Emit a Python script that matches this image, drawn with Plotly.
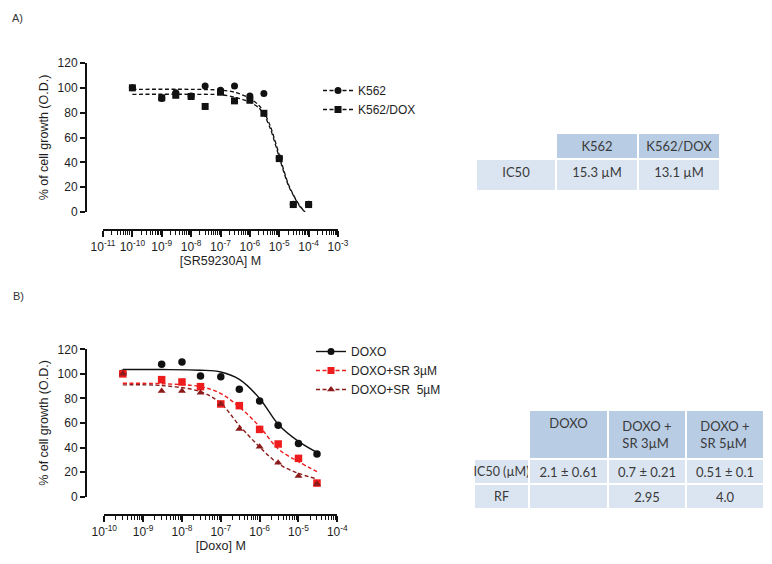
import plotly.graph_objects as go

W, H = 772, 564

# ---------------- Panel A data ----------------
conc_a = [1e-10, 1e-9, 3e-9, 1e-8, 3e-8, 1e-7, 3e-7, 1e-6, 3e-6, 1e-5, 3e-5, 1e-4]
k562 = [100, 91.5, 96, 93.5, 101.5, 98, 101.5, 93.5, 95.5, 43.5, 6.2, 6.2]
k562_dox = [100, 92, 94, 93, 85, 96.5, 89.5, 90, 79.5, 43, 6, 6]
fit_conc_a = [1e-10, 1e-8, 1e-7, 3e-7, 1e-6, 2e-6, 3e-6, 5e-6, 1e-5, 2e-5, 3e-5, 5e-5, 7.5e-5]
k562_fit = [98.8, 98.8, 98.2, 96.5, 91.5, 86, 80.5, 69, 46, 23, 14, 5, 0]
k562_dox_fit = [94.8, 94.8, 94.5, 92.5, 88.5, 84, 78.5, 67, 44, 22, 13.5, 4.5, 0]
xtick_vals_a = [1e-11, 1e-10, 1e-9, 1e-8, 1e-7, 1e-6, 1e-5, 1e-4, 1e-3]
xtick_text_a = ["10<sup>-11</sup>", "10<sup>-10</sup>", "10<sup>-9</sup>", "10<sup>-8</sup>",
                "10<sup>-7</sup>", "10<sup>-6</sup>", "10<sup>-5</sup>", "10<sup>-4</sup>",
                "10<sup>-3</sup>"]

# ---------------- Panel B data ----------------
conc_b = [3e-10, 3e-9, 1e-8, 3e-8, 1e-7, 3e-7, 1e-6, 3e-6, 1e-5, 3e-5]
doxo = [100.5, 107.8, 109.7, 98.3, 97.7, 87.4, 77.9, 58.1, 43.4, 34.8]
doxo_sr3 = [100, 95.3, 93.4, 89.6, 75.5, 74.1, 54.8, 42.9, 31.2, 11.1]
doxo_sr5 = [100, 86, 86, 84.7, 75.5, 55.1, 40.7, 27.7, 16.8, 10.3]
fit_conc_b = [3e-10, 3e-9, 3e-8, 1e-7, 3e-7, 1e-6, 3e-6, 1e-5, 3e-5]
doxo_fit = [103.5, 103.5, 103, 101.5, 95.5, 80, 59, 45, 36]
sr3_fit = [92.3, 92, 89.6, 84, 73, 57, 39, 28.5, 20.5]
sr5_fit = [91, 90.5, 85.5, 76, 58, 40.5, 27, 19, 14.5]
xtick_vals_b = [1e-10, 1e-9, 1e-8, 1e-7, 1e-6, 1e-5, 1e-4]
xtick_text_b = ["10<sup>-10</sup>", "10<sup>-9</sup>", "10<sup>-8</sup>", "10<sup>-7</sup>",
                "10<sup>-6</sup>", "10<sup>-5</sup>", "10<sup>-4</sup>"]

ytick_vals = [0, 20, 40, 60, 80, 100, 120]

# ---------------- Tables ----------------
NB = "\u00a0"
table_a_header = ["", "K562", "K562/DOX"]
table_a_cells = [["IC50"], ["15.3" + NB + "µM"], ["13.1" + NB + "µM"]]
table_b_header = ["", "DOXO", "DOXO" + NB + "+<br>SR" + NB + "3µM", "DOXO" + NB + "+<br>SR" + NB + "5µM"]
table_b_cells = [["IC50" + NB + "(µM)", "RF"],
                 ["2.1" + NB + "±" + NB + "0.61", ""],
                 ["0.7" + NB + "±" + NB + "0.21", "2.95"],
                 ["0.51" + NB + "±" + NB + "0.1", "4.0"]]

FONT = "Liberation Sans, Arial, sans-serif"
TFONT = "Lato, Open Sans, sans-serif"
TXT = "#1e1e1e"
BLACK = "#111111"
RED = "#ee1c1c"
DARKRED = "#8b1a1a"
HDR = "#b8cce4"
CELL = "#dbe5f1"
TTXT = "#3a3a3a"
DASH = "4px,2.5px"


def minor_ticks(lo, hi):
    vals = []
    for e in range(lo, hi):
        for k in range(2, 10):
            vals.append(k * 10.0 ** e)
    return vals


fig = go.Figure()

# empty traces that activate the minor-tick axes (drawn first, underneath)
fig.add_trace(go.Scatter(x=[None], y=[None], xaxis="x3", yaxis="y", showlegend=False, hoverinfo="skip"))
fig.add_trace(go.Scatter(x=[None], y=[None], xaxis="x4", yaxis="y2", showlegend=False, hoverinfo="skip"))

# Panel A: fitted curves
for yfit in (k562_fit, k562_dox_fit):
    fig.add_trace(go.Scatter(x=fit_conc_a, y=yfit, mode="lines",
                             line=dict(color=BLACK, width=1.3, dash=DASH, shape="spline", smoothing=0.8),
                             showlegend=False, xaxis="x", yaxis="y", cliponaxis=False, hoverinfo="skip"))
# Panel A: points
fig.add_trace(go.Scatter(x=conc_a, y=k562, mode="markers", marker=dict(symbol="circle", size=7, color=BLACK),
                         showlegend=False, xaxis="x", yaxis="y", cliponaxis=False))
fig.add_trace(go.Scatter(x=conc_a, y=k562_dox, mode="markers", marker=dict(symbol="square", size=7, color=BLACK),
                         showlegend=False, xaxis="x", yaxis="y", cliponaxis=False))
# Panel A: legend entries
fig.add_trace(go.Scatter(x=[None], y=[None], mode="lines+markers", name="K562",
                         marker=dict(symbol="circle", size=7, color=BLACK), line=dict(color=BLACK, width=1.3, dash=DASH),
                         xaxis="x", yaxis="y", legend="legend"))
fig.add_trace(go.Scatter(x=[None], y=[None], mode="lines+markers", name="K562/DOX",
                         marker=dict(symbol="square", size=7, color=BLACK), line=dict(color=BLACK, width=1.3, dash=DASH),
                         xaxis="x", yaxis="y", legend="legend"))

# Panel B: fitted curves
fig.add_trace(go.Scatter(x=fit_conc_b, y=doxo_fit, mode="lines", line=dict(color=BLACK, width=1.4, shape="spline"),
                         showlegend=False, xaxis="x2", yaxis="y2", cliponaxis=False, hoverinfo="skip"))
fig.add_trace(go.Scatter(x=fit_conc_b, y=sr3_fit, mode="lines", line=dict(color=RED, width=1.4, dash=DASH, shape="spline"),
                         showlegend=False, xaxis="x2", yaxis="y2", cliponaxis=False, hoverinfo="skip"))
fig.add_trace(go.Scatter(x=fit_conc_b, y=sr5_fit, mode="lines", line=dict(color=DARKRED, width=1.4, dash=DASH, shape="spline"),
                         showlegend=False, xaxis="x2", yaxis="y2", cliponaxis=False, hoverinfo="skip"))
# Panel B: points
fig.add_trace(go.Scatter(x=conc_b, y=doxo, mode="markers", marker=dict(symbol="circle", size=7.5, color=BLACK),
                         showlegend=False, xaxis="x2", yaxis="y2", cliponaxis=False))
fig.add_trace(go.Scatter(x=conc_b, y=doxo_sr3, mode="markers", marker=dict(symbol="square", size=7.5, color=RED),
                         showlegend=False, xaxis="x2", yaxis="y2", cliponaxis=False))
fig.add_trace(go.Scatter(x=conc_b, y=doxo_sr5, mode="markers", marker=dict(symbol="triangle-up", size=7, color=DARKRED),
                         showlegend=False, xaxis="x2", yaxis="y2", cliponaxis=False))
# Panel B: legend entries
fig.add_trace(go.Scatter(x=[None], y=[None], mode="lines+markers", name="DOXO",
                         marker=dict(symbol="circle", size=7, color=BLACK), line=dict(color=BLACK, width=1.4),
                         xaxis="x2", yaxis="y2", legend="legend2"))
fig.add_trace(go.Scatter(x=[None], y=[None], mode="lines+markers", name="DOXO+SR 3µM",
                         marker=dict(symbol="square", size=7, color=RED), line=dict(color=RED, width=1.4, dash=DASH),
                         xaxis="x2", yaxis="y2", legend="legend2"))
fig.add_trace(go.Scatter(x=[None], y=[None], mode="lines+markers", name="DOXO+SR  5µM",
                         marker=dict(symbol="triangle-up", size=7, color=DARKRED), line=dict(color=DARKRED, width=1.4, dash=DASH),
                         xaxis="x2", yaxis="y2", legend="legend2"))

# Tables
tline = dict(color="white", width=2)
fig.add_trace(go.Table(
    domain=dict(x=[476 / W, 720 / W], y=[1 - 196 / H, 1 - 133 / H]),
    columnwidth=[80, 82, 82],
    header=dict(values=table_a_header, fill_color=["white", HDR, HDR], line=tline, height=26, align="center",
                font=dict(family=TFONT, size=13, color=TTXT)),
    cells=dict(values=table_a_cells, fill_color=CELL, line=tline, height=32, align="center",
               font=dict(family=TFONT, size=13, color=TTXT)),
))
fig.add_trace(go.Table(
    domain=dict(x=[474 / W, 764 / W], y=[1 - 510 / H, 1 - 410 / H]),
    columnwidth=[55, 79, 78, 78],
    header=dict(values=table_b_header, fill_color=["white", HDR, HDR, HDR], line=tline, height=45, align="center",
                font=dict(family=TFONT, size=13, color=TTXT)),
    cells=dict(values=table_b_cells, fill_color=CELL, line=tline, height=25, align="center",
               font=dict(family=TFONT, size=[12.5, 13, 13, 13], color=TTXT)),
))


def xaxis_cfg(rng, dom, pos, vals, text, title):
    return dict(type="log", range=rng, domain=dom, anchor="free", position=pos,
                showline=True, linecolor=BLACK, linewidth=2, mirror=False,
                ticks="outside", ticklen=6, tickwidth=1.5, tickcolor=BLACK,
                tickvals=vals, ticktext=text, tickfont=dict(family=FONT, size=12, color=TXT),
                showgrid=False, zeroline=False, automargin=False,
                title=dict(text=title, font=dict(family=FONT, size=12.5, color=TXT), standoff=1))


def minor_axis_cfg(rng, dom, pos):
    # extra axis that only draws the small (minor) ticks
    return dict(type="log", range=rng, domain=dom, anchor="free", position=pos,
                showline=False, ticks="outside", ticklen=4, tickwidth=1.2, tickcolor=BLACK,
                tickmode="array", tickvals=minor_ticks(int(rng[0]), int(rng[1])), showticklabels=False,
                showgrid=False, zeroline=False, automargin=False, fixedrange=True)


def yaxis_cfg(dom, pos):
    return dict(range=[0, 120], domain=dom, anchor="free", position=pos,
                showline=True, linecolor=BLACK, linewidth=2,
                ticks="outside", ticklen=5, tickwidth=1.5, tickcolor=BLACK,
                tickvals=ytick_vals, tickfont=dict(family=FONT, size=12, color=TXT),
                showgrid=False, zeroline=False, automargin=False,
                title=dict(text="% of cell growth (O.D.)", font=dict(family=FONT, size=12.5, color=TXT), standoff=5))


dom_a = [103 / W, 338 / W]
dom_b = [104.3 / W, 337.3 / W]
pos_a = 1 - 230 / H
pos_b = 1 - 515 / H

fig.update_layout(
    width=W, height=H,
    margin=dict(l=0, r=0, t=0, b=0),
    paper_bgcolor="white", plot_bgcolor="rgba(0,0,0,0)",
    font=dict(family=FONT, color=TXT),
    xaxis=xaxis_cfg([-11, -3], dom_a, pos_a, xtick_vals_a, xtick_text_a, "[SR59230A] M"),
    yaxis=yaxis_cfg([1 - 212 / H, 1 - 63 / H], 86 / W),
    xaxis2=xaxis_cfg([-10, -4], dom_b, pos_b, xtick_vals_b, xtick_text_b, "[Doxo] M"),
    yaxis2=yaxis_cfg([1 - 496.7 / H, 1 - 349.3 / H], 86 / W),
    xaxis3=minor_axis_cfg([-11, -3], dom_a, pos_a),
    xaxis4=minor_axis_cfg([-10, -4], dom_b, pos_b),
    legend=dict(x=318 / W, y=1 - 76 / H, xanchor="left", yanchor="top", bgcolor="rgba(0,0,0,0)",
                font=dict(family=FONT, size=12, color=TXT), itemwidth=30, tracegroupgap=0),
    legend2=dict(x=311 / W, y=1 - 337 / H, xanchor="left", yanchor="top", bgcolor="rgba(0,0,0,0)",
                 font=dict(family=FONT, size=12, color=TXT), itemwidth=30, tracegroupgap=0),
    annotations=[
        dict(text="A)", x=10 / W, y=1 - 18 / H, xref="paper", yref="paper", xanchor="left", yanchor="middle",
             showarrow=False, font=dict(family=FONT, size=11, color="#333")),
        dict(text="B)", x=11 / W, y=1 - 296 / H, xref="paper", yref="paper", xanchor="left", yanchor="middle",
             showarrow=False, font=dict(family=FONT, size=11, color="#333")),
    ],
)

fig.write_html("out.html", config={"displayModeBar": False},
               post_script="document.body.style.margin='0';document.body.style.overflow='hidden';")
